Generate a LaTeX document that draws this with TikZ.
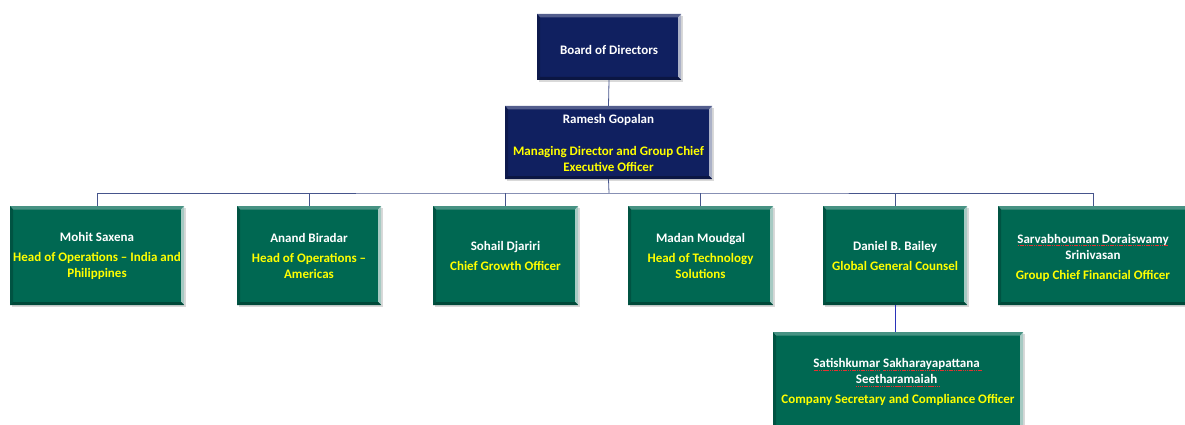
\documentclass[tikz,border=0pt]{standalone}
\usepackage{fontspec}
\setmainfont{Carlito}
\usetikzlibrary{shadows}
\definecolor{navy}{RGB}{16,32,96}
\definecolor{grn}{RGB}{0,104,82}
\definecolor{ylw}{RGB}{255,255,0}
\definecolor{conn}{RGB}{70,85,140}
\definecolor{spell}{RGB}{230,50,50}
\tikzset{
  bevel/.style={path picture={
    \fill[#1!72!white] (path picture bounding box.north west) -- (path picture bounding box.north east)
      -- ([xshift=-3pt,yshift=-3.5pt]path picture bounding box.north east)
      -- ([xshift=3pt,yshift=-3.5pt]path picture bounding box.north west) -- cycle;
    \fill[#1!80!black] (path picture bounding box.north west) -- ([xshift=3pt,yshift=-3.5pt]path picture bounding box.north west)
      -- ([xshift=3pt,yshift=3pt]path picture bounding box.south west) -- (path picture bounding box.south west) -- cycle;
    \fill[#1!35!white] (path picture bounding box.north east) -- ([xshift=-3pt,yshift=-3.5pt]path picture bounding box.north east)
      -- ([xshift=-3pt,yshift=3pt]path picture bounding box.south east) -- (path picture bounding box.south east) -- cycle;
    \fill[#1!70!black] (path picture bounding box.south west) -- ([xshift=3pt,yshift=3pt]path picture bounding box.south west)
      -- ([xshift=-3pt,yshift=3pt]path picture bounding box.south east) -- (path picture bounding box.south east) -- cycle;
  }},
  box/.style={rectangle, align=center, text=white,
    font=\fontsize{13}{16}\selectfont\bfseries, inner sep=1pt,
    drop shadow={shadow xshift=2pt, shadow yshift=-2pt, opacity=0.3, fill=gray}},
  navybox/.style={box, fill=navy, bevel=navy},
  grnbox/.style={box, fill=grn, bevel=grn},
  link/.style={draw=conn, line width=0.8pt},
}
\newcommand{\rl}[1]{\textcolor{ylw}{#1}}
\newsavebox{\sqbox}
\newcommand{\sq}[1]{\leavevmode\sbox{\sqbox}{#1}\rlap{\textcolor{spell}{\hbox to \wd\sqbox{\xleaders\hbox{\kern0.3pt\rule[-2.8pt]{1.2pt}{0.9pt}\kern0.3pt}\hfill}}}\usebox{\sqbox}}
\begin{document}
\begin{tikzpicture}[x=1pt,y=-1pt]
\useasboundingbox (0,0) rectangle (1185,425);
\node[navybox, minimum width=144pt, minimum height=66pt] (board) at (609,47) {\raisebox{-3pt}[\height][\depth]{Board of Directors}};
\node[navybox, minimum width=207pt, minimum height=73pt] (ceo) at (608.5,142.5)
  {Ramesh Gopalan\\[16pt]\rl{Managing Director and Group Chief}\\\rl{Executive Officer}};
\node[grnbox, minimum width=174pt, minimum height=99pt] (mohit) at (97,255.5)
  {Mohit Saxena\\[4pt]\rl{Head of Operations -- India and}\\\rl{Philippines}};
\node[grnbox, minimum width=144pt, minimum height=99pt] (anand) at (309,255.5)
  {Anand Biradar\\[4pt]\rl{Head of Operations --}\\\rl{Americas}};
\node[grnbox, minimum width=145pt, minimum height=99pt] (sohail) at (505.5,255.5)
  {Sohail Djariri\\[4pt]\rl{Chief Growth Officer}};
\node[grnbox, minimum width=145pt, minimum height=99pt] (madan) at (700.5,255.5)
  {Madan Moudgal\\[4pt]\rl{Head of Technology}\\\rl{Solutions}};
\node[grnbox, minimum width=144pt, minimum height=99pt] (daniel) at (895,255.5)
  {Daniel B. Bailey\\[4pt]\rl{Global General Counsel}};
\node[grnbox, minimum width=190pt, minimum height=99pt] (sarva) at (1093,255.5)
  {\mbox{}\\[-2pt]\sq{Sarvabhouman~Doraiswamy}\\Srinivasan\\[4pt]\rl{Group Chief Financial Officer}};
\node[grnbox, minimum width=250pt, minimum height=110pt, anchor=north] (satish) at (898,332)
  {\mbox{}\\[0pt]\sq{Satishkumar} \sq{Sakharayapattana\ }\\\sq{Seetharamaiah\ }\\[4pt]\rl{Company Secretary and Compliance Officer}\\[3pt]\mbox{}};
\coordinate (bus) at (609,193);
\draw[link] (board.south) -- (ceo.north);
\draw[link] (ceo.south) -- (bus);
\draw[link] (mohit.north) |- (bus) -| (sarva.north);
\foreach \n in {anand,sohail,madan,daniel}
  \draw[link] (\n.north) -- (\n.north |- bus);
\draw[link, draw=conn!60!blue] (daniel.south) -- (daniel.south |- satish.north);
\end{tikzpicture}
\end{document}
